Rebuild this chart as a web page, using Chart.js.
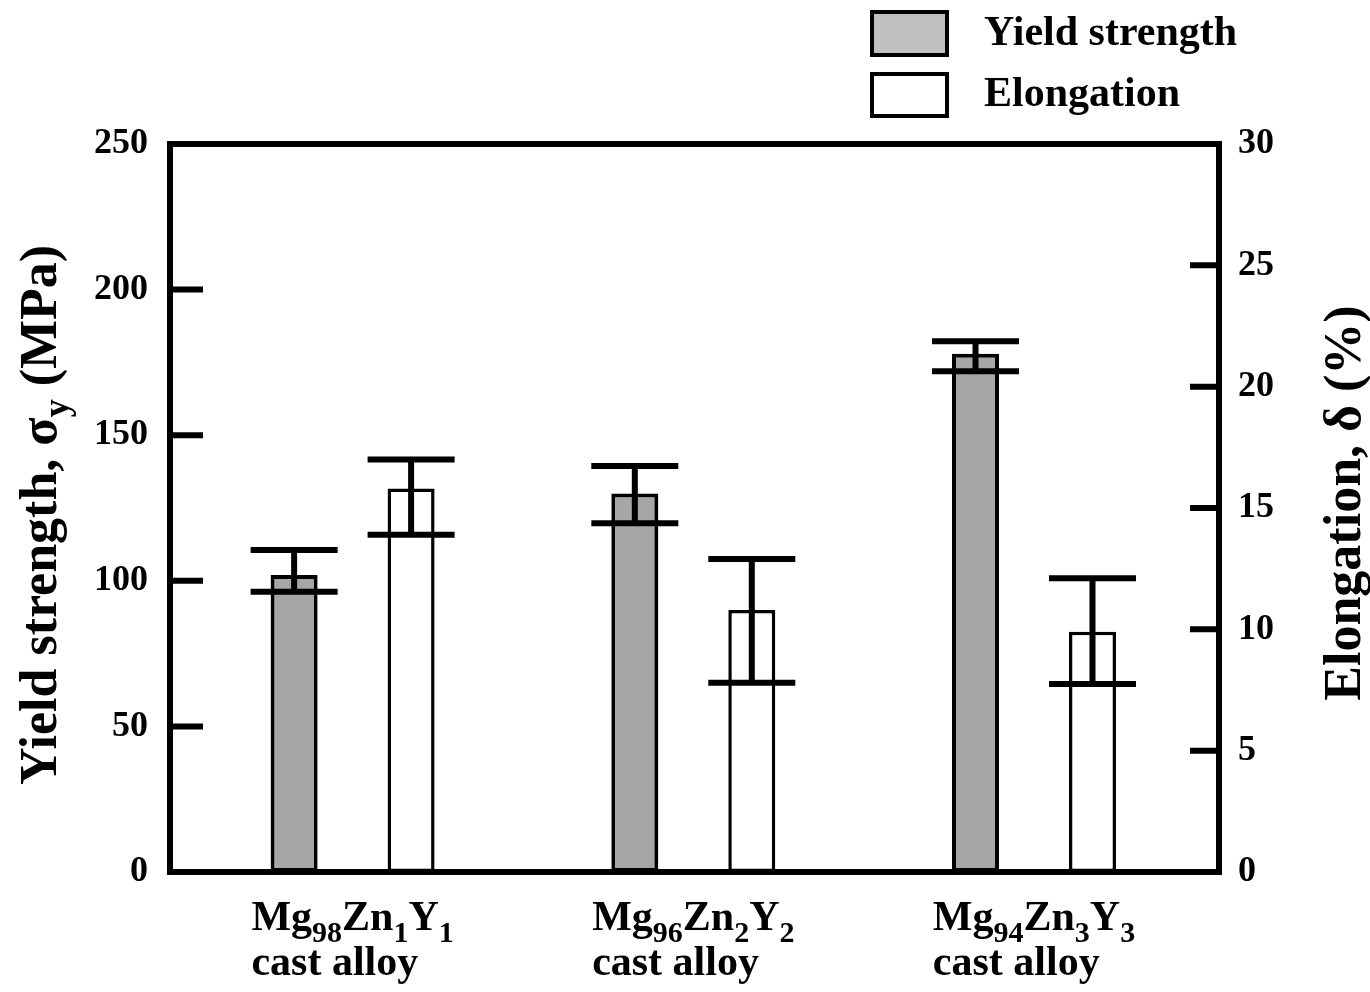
<!DOCTYPE html>
<html><head><meta charset="utf-8">
<script src="https://cdn.jsdelivr.net/npm/chart.js@4/dist/chart.umd.min.js"></script>
<style>html,body{margin:0;padding:0;background:#fff;} #wrap{width:1370px;height:992px;}</style>
</head><body><div id="wrap"><canvas id="c" width="1370" height="992"></canvas></div>
<script>
// ---- data ----
const categories = ['Mg98Zn1Y1', 'Mg96Zn2Y2', 'Mg94Zn3Y3'];
const categorySuffix = 'cast alloy';
const seriesNames = ['Yield strength', 'Elongation'];
const yieldStrength = [102, 130, 178];
const yieldErrLow = [96.2, 119.8, 172.0];
const yieldErrHigh = [110.6, 139.4, 182.3];
const elongation = [15.8, 10.8, 9.9];
const elongErrLow = [13.9, 7.8, 7.75];
const elongErrHigh = [17.0, 12.9, 12.1];
const leftTicks = [0, 50, 100, 150, 200, 250];
const rightTicks = [0, 5, 10, 15, 20, 25, 30];
const leftTitle = ['Yield strength, σ', 'y', ' (MPa)'];
const rightTitle = 'Elongation, δ (%)';

const FAM = '"Liberation Serif", "Times New Roman", serif';
const bold = (s) => 'bold ' + s + 'px ' + FAM;

// split a formula like Mg98Zn1Y1 into [text, isSub] parts
function formulaParts(s) {
  const parts = [];
  const re = /([A-Za-z]+)|(\d+)/g; let m;
  while ((m = re.exec(s))) parts.push(m[1] ? [m[1], false] : [m[2], true]);
  return parts;
}
function richWidth(ctx, parts, main, sub) {
  let w = 0;
  parts.forEach(([t, s]) => { ctx.font = bold(s ? sub : main); w += ctx.measureText(t).width; });
  return w;
}
function drawRich(ctx, parts, x, y, main, sub, off) {
  parts.forEach(([t, s]) => {
    ctx.font = bold(s ? sub : main);
    ctx.fillText(t, x, s ? y + off : y);
    x += ctx.measureText(t).width;
  });
}

const decorPlugin = {
  id: 'decor',
  afterDatasetsDraw(chart) {
    const ctx = chart.ctx, a = chart.chartArea;
    ctx.save();
    ctx.strokeStyle = '#000';
    ctx.fillStyle = '#000';
    // error bars
    chart.data.datasets.forEach((ds, di) => {
      const meta = chart.getDatasetMeta(di);
      const ys = chart.scales[ds.yAxisID];
      meta.data.forEach((bar, i) => {
        const x = bar.x;
        const yl = ys.getPixelForValue(ds.errLow[i]);
        const yh = ys.getPixelForValue(ds.errHigh[i]);
        ctx.lineWidth = 6;
        ctx.beginPath();
        ctx.moveTo(x, yl); ctx.lineTo(x, yh);
        ctx.moveTo(x - 43.5, yl); ctx.lineTo(x + 43.5, yl);
        ctx.moveTo(x - 43.5, yh); ctx.lineTo(x + 43.5, yh);
        ctx.stroke();
      });
    });
    // frame
    ctx.lineWidth = 6;
    ctx.strokeRect(a.left, a.top, a.right - a.left, a.bottom - a.top);
    // inward ticks
    const yS = chart.scales.y, y1S = chart.scales.y1;
    ctx.beginPath();
    leftTicks.slice(1, -1).forEach(v => {
      const y = yS.getPixelForValue(v);
      ctx.moveTo(a.left, y); ctx.lineTo(a.left + 33, y);
    });
    rightTicks.slice(1, -1).forEach(v => {
      const y = y1S.getPixelForValue(v);
      ctx.moveTo(a.right - 29, y); ctx.lineTo(a.right, y);
    });
    ctx.stroke();

    // x category labels
    const xS = chart.scales.x;
    ctx.textAlign = 'left'; ctx.textBaseline = 'alphabetic';
    categories.forEach((c, i) => {
      const cx = xS.getPixelForValue(i);
      const parts = formulaParts(c);
      const w = richWidth(ctx, parts, 42, 30);
      const x0 = cx - w / 2;
      drawRich(ctx, parts, x0, 930, 42, 30, 12);
      ctx.font = bold(42);
      ctx.fillText(categorySuffix, x0, 975);
    });

    // axis titles
    const lt = [[leftTitle[0], false], [leftTitle[1], true], [leftTitle[2], false]];
    ctx.save();
    ctx.translate(56, 515);
    ctx.rotate(-Math.PI / 2);
    const lw = richWidth(ctx, lt, 52, 36);
    drawRich(ctx, lt, -lw / 2, 0, 52, 36, 12);
    ctx.restore();

    ctx.save();
    ctx.translate(1360, 503);
    ctx.rotate(-Math.PI / 2);
    ctx.font = bold(52);
    ctx.textAlign = 'center';
    ctx.fillText(rightTitle, 0, 0);
    ctx.restore();

    // legend
    const sw = [[872, 12, 75, 43], [872, 74, 75, 42]];
    chart.data.datasets.forEach((ds, di) => {
      const [x, y, w, h] = sw[di];
      ctx.fillStyle = ds.legendFill;
      ctx.fillRect(x, y, w, h);
      ctx.lineWidth = 4;
      ctx.strokeStyle = '#000';
      ctx.strokeRect(x, y, w, h);
      ctx.fillStyle = '#000';
      ctx.font = bold(42);
      ctx.textAlign = 'left';
      ctx.fillText(ds.label, 984, di === 0 ? 45 : 106);
    });
    ctx.restore();
  }
};

const tickFont = { family: FAM, size: 36, weight: 'bold' };

new Chart(document.getElementById('c'), {
  type: 'bar',
  data: {
    datasets: [
      {
        label: seriesNames[0],
        data: categories.map((c, i) => ({ x: i, y: yieldStrength[i] })),
        yAxisID: 'y',
        backgroundColor: '#a6a6a6',
        legendFill: '#c0c0c0',
        borderColor: '#000',
        borderWidth: 4,
        borderSkipped: false,
        categoryPercentage: 0.6867,
        barPercentage: 0.4017,
        errLow: yieldErrLow,
        errHigh: yieldErrHigh
      },
      {
        label: seriesNames[1],
        data: categories.map((c, i) => ({ x: i, y: elongation[i] })),
        yAxisID: 'y1',
        backgroundColor: '#ffffff',
        legendFill: '#ffffff',
        borderColor: '#000',
        borderWidth: 3.5,
        borderSkipped: false,
        categoryPercentage: 0.6867,
        barPercentage: 0.4017,
        errLow: elongErrLow,
        errHigh: elongErrHigh
      }
    ]
  },
  options: {
    responsive: false,
    animation: false,
    devicePixelRatio: 1,
    layout: { padding: { top: 144, left: 0, right: 0, bottom: 0 } },
    plugins: { legend: { display: false }, tooltip: { enabled: false } },
    scales: {
      x: {
        type: 'linear', min: -0.536, max: 2.543, offset: false,
        grid: { display: false, drawTicks: false, offset: false },
        border: { display: false },
        ticks: { display: false },
        afterBuildTicks(s) { s.ticks = categories.map((c, i) => ({ value: i })); },
        afterFit(s) { s.height = 120; }
      },
      y: {
        position: 'left', min: 0, max: 250,
        afterBuildTicks(s) { s.ticks = leftTicks.map(v => ({ value: v })); },
        ticks: { font: tickFont, color: '#000', padding: 22 },
        grid: { display: false, drawTicks: false },
        border: { display: false },
        afterFit(s) { s.width = 170; }
      },
      y1: {
        position: 'right', min: 0, max: 30,
        afterBuildTicks(s) { s.ticks = rightTicks.map(v => ({ value: v })); },
        ticks: { font: tickFont, color: '#000', padding: 19 },
        grid: { display: false, drawTicks: false },
        border: { display: false },
        afterFit(s) { s.width = 151; }
      }
    }
  },
  plugins: [decorPlugin]
});
</script>
</body></html>
